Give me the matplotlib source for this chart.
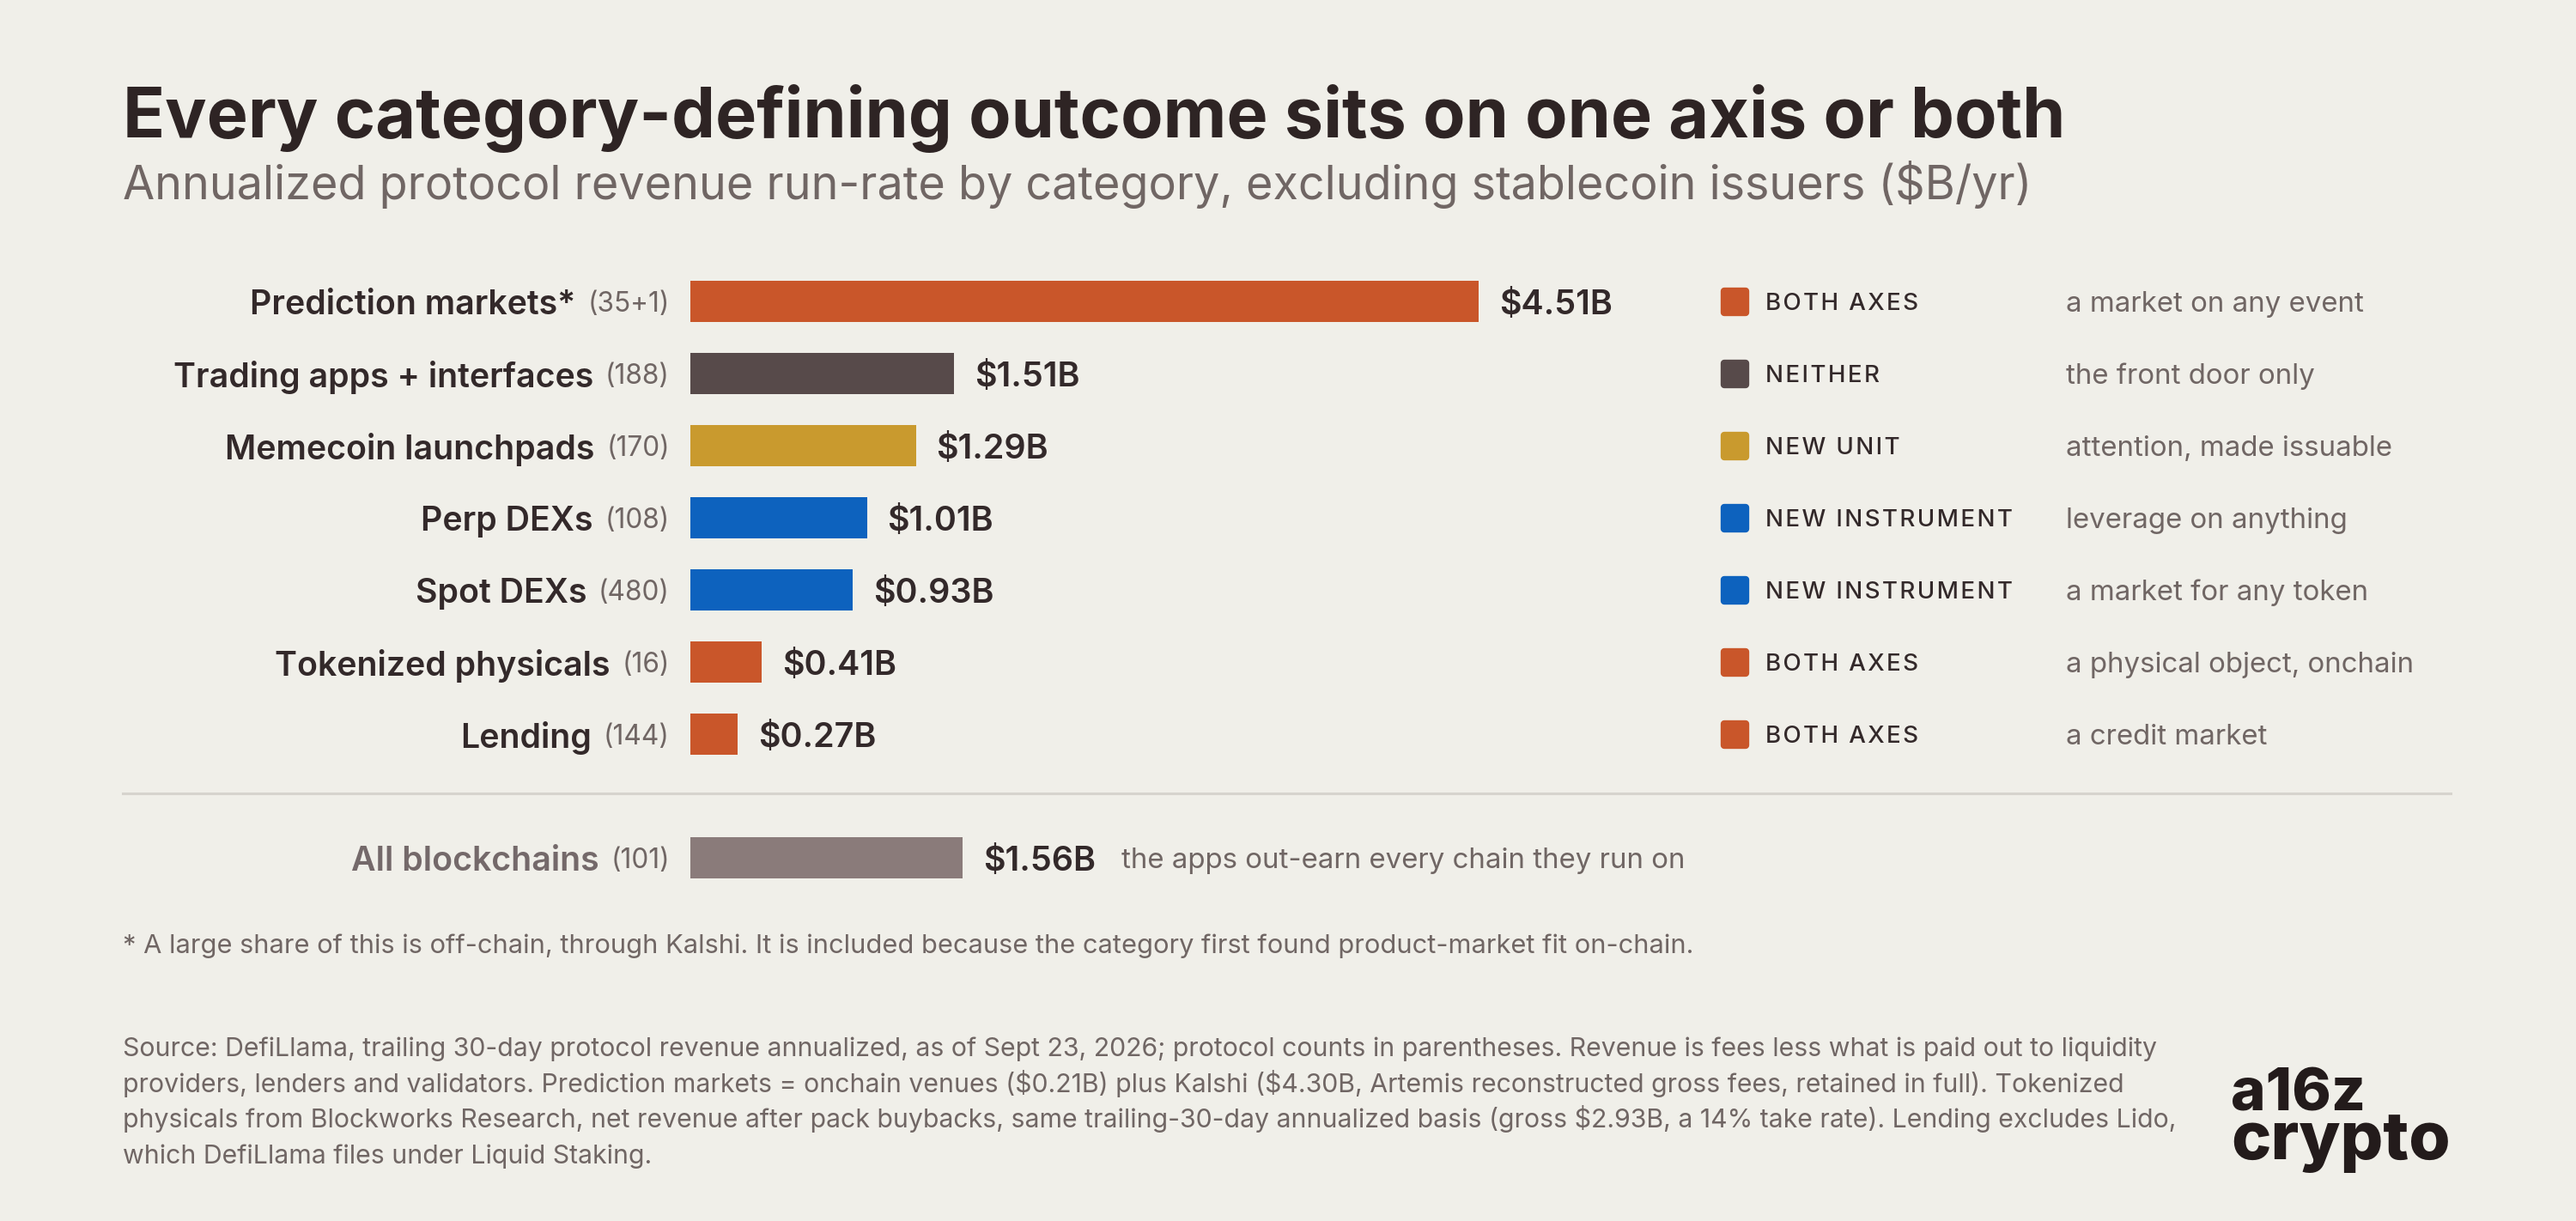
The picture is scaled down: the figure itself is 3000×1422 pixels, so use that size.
import matplotlib
matplotlib.use("Agg")
import matplotlib.pyplot as plt
import matplotlib.transforms as mtransforms
from matplotlib.markers import MarkerStyle

plt.rcParams['font.family'] = ['Inter', 'DejaVu Sans']
plt.rcParams['text.parse_math'] = False

# data
categories = ["Prediction markets*", "Trading apps + interfaces", "Memecoin launchpads",
              "Perp DEXs", "Spot DEXs", "Tokenized physicals", "Lending"]
counts = ["35+1", "188", "170", "108", "480", "16", "144"]
revenue = [4.51, 1.51, 1.29, 1.01, 0.93, 0.41, 0.27]
axis_tags = ["BOTH AXES", "NEITHER", "NEW UNIT", "NEW INSTRUMENT", "NEW INSTRUMENT",
             "BOTH AXES", "BOTH AXES"]
notes = ["a market on any event", "the front door only", "attention, made issuable",
         "leverage on anything", "a market for any token", "a physical object, onchain",
         "a credit market"]
chain_label = "All blockchains"
chain_count = "101"
chain_revenue = 1.56
chain_note = "the apps out-earn every chain they run on"

tag_colors = {"BOTH AXES": "#c9562a", "NEITHER": "#574a4a",
              "NEW UNIT": "#c99a2e", "NEW INSTRUMENT": "#0d62be"}

BG = "#f0efe9"
DARK = "#33292a"
GRAY = "#706664"

W, H = 3000, 1422
fig = plt.figure(figsize=(30, 14.22), dpi=100, facecolor=BG)
r = fig.canvas.get_renderer()

ov = fig.add_axes([0, 0, 1, 1])
ov.set_xlim(0, W)
ov.set_ylim(H, 0)
ov.axis('off')
ov.patch.set_alpha(0)

# bar axes: 0 at x=804px, 203.5 px per $B, 84 px per row
ax = fig.add_axes([804 / W, 1 - 1040 / H, 2050 / W, 731 / H])
ax.set_xlim(0, 2050 / 203.5)
ax.set_ylim(8.202, -0.5)
ax.axis('off')
ax.patch.set_alpha(0)

rows = list(range(len(categories)))
chain_row = 7.714


def fit(t, width):
    w = t.get_window_extent(r).width
    t.set_fontsize(t.get_fontsize() * width / w)
    return t.get_fontsize()


def spaced(s):
    return "\u200a".join(s)


# title block
t = ov.text(143, 160, "Every category-defining outcome sits on one axis or both",
            fontsize=60, weight='bold', color="#2e2424", va='baseline')
fit(t, 2264)
t = ov.text(143, 232, "Annualized protocol revenue run-rate by category, excluding stablecoin issuers ($B/yr)",
            fontsize=30, color=GRAY, va='baseline')
fit(t, 2225)

# bars
bar_colors = [tag_colors[a] for a in axis_tags]
ax.barh(rows, revenue, height=0.571, color=bar_colors)
ax.barh([chain_row], [chain_revenue], height=0.571, color="#8a7b7a")

bl = mtransforms.blended_transform_factory(ov.transData, ax.transData)
dot_y = mtransforms.blended_transform_factory(mtransforms.IdentityTransform(), ax.transData)
val_tr = mtransforms.offset_copy(ax.transData, fig, x=24, units='dots')

# sizes from reference widths
probe = ov.text(0, 0, "Trading apps + interfaces", fontsize=20, weight='semibold')
lab_fs = fit(probe, 490)
probe.remove()
probe = ov.text(0, 0, "(188)", fontsize=15)
cnt_fs = fit(probe, 75)
probe.remove()
probe = ov.text(0, 0, "$4.51B", fontsize=20, weight='semibold')
val_fs = fit(probe, 132)
probe.remove()
probe = ov.text(0, 0, spaced("NEW INSTRUMENT"), fontsize=15, weight='medium')
tag_fs = fit(probe, 286)
probe.remove()
probe = ov.text(0, 0, "a market on any event", fontsize=15)
note_fs = fit(probe, 348)
probe.remove()


def row_label(y, name, cnt, color):
    c = ax.text(780, y, f"({cnt})", transform=bl, ha='right', va='center_baseline',
                fontsize=cnt_fs, color=GRAY)
    x0 = c.get_window_extent(r).x0
    ax.text(x0 - 14, y, name, transform=dot_y, ha='right', va='center_baseline',
            fontsize=lab_fs, weight='semibold', color=color)


for i, y in enumerate(rows):
    row_label(y, categories[i], counts[i], DARK)
    ax.text(revenue[i], y, f"${revenue[i]:.2f}B", transform=val_tr, va='center_baseline',
            fontsize=val_fs, weight='semibold', color=DARK)
    ax.plot([2020], [y], transform=bl, marker=MarkerStyle('s', joinstyle='round'),
            ms=18, mew=6, color=bar_colors[i], clip_on=False)
    ax.text(2056, y, spaced(axis_tags[i]), transform=bl, va='center_baseline',
            fontsize=tag_fs, weight='medium', color=DARK)
    ax.text(2406, y, notes[i], transform=bl, va='center_baseline',
            fontsize=note_fs, color=GRAY)

# separator
ov.plot([143, 2854], [924, 924], color="#d6d3cd", lw=2.2)

# all blockchains row
row_label(chain_row, chain_label, chain_count, "#74696a")
v = ax.text(chain_revenue, chain_row, f"${chain_revenue:.2f}B", transform=val_tr,
            va='center_baseline', fontsize=val_fs, weight='semibold', color=DARK)
x1 = v.get_window_extent(r).x1
ax.text(x1 + 30, chain_row, chain_note, transform=dot_y, va='center_baseline',
        fontsize=note_fs, color=GRAY)

# footnote
t = ov.text(143, 1110, "* A large share of this is off-chain, through Kalshi. It is included because the "
            "category first found product-market fit on-chain.", fontsize=20, color=GRAY, va='baseline')
fit(t, 1827)

source_lines = [
    "Source: DefiLlama, trailing 30-day protocol revenue annualized, as of Sept 23, 2026; protocol counts in parentheses. Revenue is fees less what is paid out to liquidity",
    "providers, lenders and validators. Prediction markets = onchain venues ($0.21B) plus Kalshi ($4.30B, Artemis reconstructed gross fees, retained in full). Tokenized",
    "physicals from Blockworks Research, net revenue after pack buybacks, same trailing-30-day annualized basis (gross $2.93B, a 14% take rate). Lending excludes Lido,",
    "which DefiLlama files under Liquid Staking.",
]
t = ov.text(143, 1230, source_lines[0], fontsize=20, color=GRAY, va='baseline')
src_fs = fit(t, 2367)
for k, line in enumerate(source_lines[1:], start=1):
    ov.text(143, 1230 + 41.7 * k, line, fontsize=src_fs, color=GRAY, va='baseline')

# logo
t = ov.text(2598, 1293, "a16z", fontsize=40, weight='heavy', color="#231b1b", va='baseline')
fit(t, 157)
t = ov.text(2598, 1350, "crypto", fontsize=40, weight='heavy', color="#231b1b", va='baseline')
fit(t, 256)

fig.savefig("out.png", dpi=100, facecolor=BG)
